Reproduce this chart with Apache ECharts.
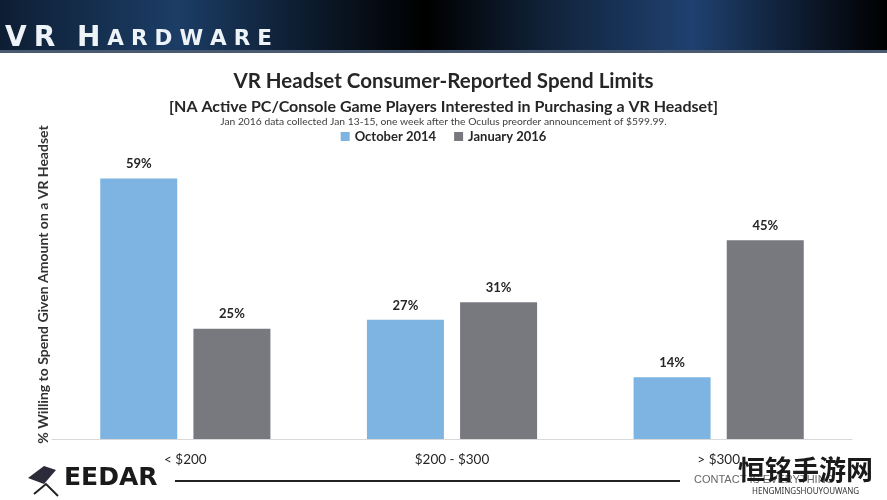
<!DOCTYPE html>
<html><head><meta charset="utf-8">
<script src="https://cdn.jsdelivr.net/npm/echarts@6/dist/echarts.min.js"></script>
<style>html,body{margin:0;padding:0;background:#fff}#c{width:887px;height:500px}</style>
</head><body><div id="c"></div>
<script>
const categories = ['< $200', '$200 - $300', '> $300'];
const october2014 = [59, 27, 14];
const january2016 = [25, 31, 45];
const seriesNames = ['October 2014', 'January 2016'];

const chart = echarts.init(document.getElementById('c'), null, {renderer: 'canvas'});
const F = 'Lato, "Open Sans", sans-serif';
const hdr = 'VR HARDWARE'.split('');
let hdrText = '';
hdr.forEach((ch, i) => {
  if (ch === ' ') { hdrText += '{sp| }'; return; }
  hdrText += (i === 0 || i === 1 || i === 3) ? '{big|' + ch + '}' : '{sm|' + ch + '}';
});

chart.setOption({
  animation: false,
  backgroundColor: '#ffffff',
  title: [
    {text: 'VR Headset Consumer-Reported Spend Limits', left: 'center', top: 66,
     textStyle: {fontFamily: F, fontWeight: 'bold', fontSize: 20.5, color: '#262626'}},
    {text: '[NA Active PC/Console Game Players Interested in Purchasing a VR Headset]', left: 'center', top: 94,
     textStyle: {fontFamily: F, fontWeight: 'bold', fontSize: 16, color: '#262626'}},
    {text: 'Jan 2016 data collected Jan 13-15, one week after the Oculus preorder announcement of $599.99.', left: 'center', top: 112,
     textStyle: {fontFamily: F, fontWeight: 'normal', fontSize: 10.3, color: '#404040'}}
  ],
  legend: {
    data: seriesNames, top: 125, left: 'center', icon: 'rect', itemWidth: 9, itemHeight: 9, itemGap: 18,
    textStyle: {fontFamily: F, fontWeight: 'bold', fontSize: 13, color: '#262626'}
  },
  grid: {left: 52, right: 35, top: 130, bottom: 61},
  xAxis: {
    type: 'category', data: categories,
    axisLine: {lineStyle: {color: '#d9d9d9', width: 1}},
    axisTick: {show: false},
    axisLabel: {fontFamily: F, fontSize: 13.5, color: '#262626', margin: 14}
  },
  yAxis: {
    type: 'value', min: 0, max: 70, interval: 10,
    axisLine: {show: false}, axisTick: {show: false}, axisLabel: {show: false}, splitLine: {show: false},
    name: '% Willing to Spend Given Amount on a VR Headset', nameLocation: 'middle', nameGap: 2,
    nameTextStyle: {fontFamily: F, fontWeight: 'bold', fontSize: 14, color: '#333333'}
  },
  series: [
    {name: seriesNames[0], type: 'bar', data: october2014, barWidth: 77, barGap: '21%',
     itemStyle: {color: '#7db4e2'},
     label: {show: true, position: 'top', distance: 8, formatter: '{c}%', fontFamily: F, fontWeight: 'bold', fontSize: 13, color: '#262626'}},
    {name: seriesNames[1], type: 'bar', data: january2016, barWidth: 77,
     itemStyle: {color: '#77797e'},
     label: {show: true, position: 'top', distance: 8, formatter: '{c}%', fontFamily: F, fontWeight: 'bold', fontSize: 13, color: '#262626'}}
  ],
  graphic: [
    {type: 'rect', left: 0, top: 0, z: 0, shape: {width: 887, height: 50},
     style: {fill: new echarts.graphic.LinearGradient(0, 0, 1, 0, [
       {offset: 0, color: '#0d1e33'}, {offset: 0.2, color: '#1c3d66'}, {offset: 0.35, color: '#0c1a2c'},
       {offset: 0.48, color: '#000000'}, {offset: 0.62, color: '#11233b'}, {offset: 0.78, color: '#1f4170'},
       {offset: 0.92, color: '#0b1626'}, {offset: 1, color: '#000000'}])}},
    {type: 'rect', left: 0, top: 50, z: 0, shape: {width: 887, height: 3},
     style: {fill: '#4a5a70'}},
    {type: 'text', left: 5, top: 25, z: 5,
     style: {text: hdrText, rich: {
       big: {fontFamily: '"DejaVu Sans"', fontWeight: 'bold', fontSize: 28, fill: '#eef3f8', padding: [0, 7, 0, 0]},
       sm: {fontFamily: '"DejaVu Sans"', fontWeight: 'bold', fontSize: 21.5, fill: '#eef3f8', padding: [0, 7, 0, 0]},
       sp: {fontFamily: '"DejaVu Sans"', fontSize: 21, padding: [0, 8, 0, 0]}
     }}},
    {type: 'text', left: 64, top: 466, z: 5,
     style: {text: 'EEDAR', fontFamily: '"DejaVu Sans"', fontWeight: 'bold', fontSize: 25, fill: '#1a1a1a'}},
    {type: 'polygon', z: 5, shape: {points: [[28, 478], [44, 466], [56, 470], [44, 484]]}, style: {fill: '#2b2b3a'}},
    {type: 'polyline', z: 5, shape: {points: [[34, 494], [46, 484], [58, 496]]}, style: {stroke: '#222', lineWidth: 2, fill: null}},
    {type: 'line', z: 5, shape: {x1: 175, y1: 481, x2: 680, y2: 481}, style: {stroke: '#222', lineWidth: 2}},
    {type: 'text', left: 694, top: 474, z: 5,
     style: {text: 'CONTACT IS EVERYTHING', fontFamily: '"Liberation Sans Narrow", "Liberation Sans"', fontSize: 11, fill: '#666'}},
    {type: 'text', left: 738, top: 456, z: 6,
     style: {text: '恒铭手游网', fontFamily: '"Noto Sans CJK SC"', fontWeight: 'bold', fontSize: 27, fill: '#1a1a1a'}},
    {type: 'text', left: 752, top: 488, z: 6,
     style: {text: 'HENGMINGSHOUYOUWANG', fontFamily: '"Noto Sans"', fontSize: 8, fill: '#333'}}
  ]
});
</script></body></html>
